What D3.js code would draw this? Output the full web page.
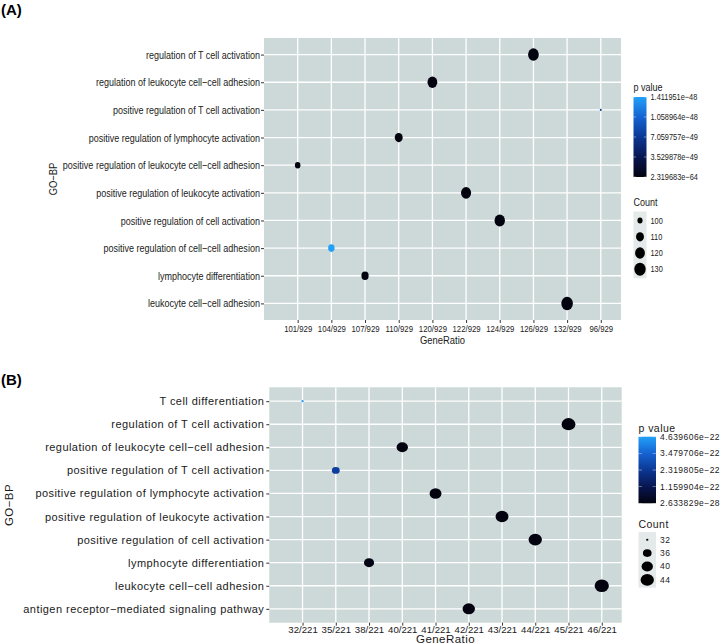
<!DOCTYPE html>
<html>
<head>
<meta charset="utf-8">
<script src="https://cdn.jsdelivr.net/npm/d3@7"></script>
<style>
html,body{margin:0;padding:0;background:#fff;}
svg{display:block;}
</style>
</head>
<body>
<svg id="chart" width="720" height="643"></svg>
<script>
// ---------------- DATA: panel A ----------------
const categoriesA = [
  "regulation of T cell activation",
  "regulation of leukocyte cell\u2212cell adhesion",
  "positive regulation of T cell activation",
  "positive regulation of lymphocyte activation",
  "positive regulation of leukocyte cell\u2212cell adhesion",
  "positive regulation of leukocyte activation",
  "positive regulation of cell activation",
  "positive regulation of cell\u2212cell adhesion",
  "lymphocyte differentiation",
  "leukocyte cell\u2212cell adhesion"
];
const ratioLevelsA = ["101/929","104/929","107/929","110/929","120/929","122/929","124/929","126/929","132/929","96/929"];
const geneRatioA = ["126/929","120/929","96/929","110/929","101/929","122/929","124/929","104/929","107/929","132/929"];
const countA = [126,120,96,110,101,122,124,104,107,132];
const pValueA = [3.1e-62,8.4e-60,7.8e-49,2.6e-57,4.9e-55,1.2e-61,6.3e-63,1.411951e-48,9.7e-56,2.319683e-64];
const colorTicksA = [2.319683e-64,3.529878e-49,7.059757e-49,1.058964e-48,1.411951e-48];
const colorTickLabelsA = ["2.319683e\u221264","3.529878e\u221249","7.059757e\u221249","1.058964e\u221248","1.411951e\u221248"];
const sizeTicksA = [100,110,120,130];

// ---------------- DATA: panel B ----------------
const categoriesB = [
  "T cell differentiation",
  "regulation of T cell activation",
  "regulation of leukocyte cell\u2212cell adhesion",
  "positive regulation of T cell activation",
  "positive regulation of lymphocyte activation",
  "positive regulation of leukocyte activation",
  "positive regulation of cell activation",
  "lymphocyte differentiation",
  "leukocyte cell\u2212cell adhesion",
  "antigen receptor\u2212mediated signaling pathway"
];
const ratioLevelsB = ["32/221","35/221","38/221","40/221","41/221","42/221","43/221","44/221","45/221","46/221"];
const geneRatioB = ["32/221","45/221","40/221","35/221","41/221","43/221","44/221","38/221","46/221","42/221"];
const countB = [32,45,40,35,41,43,44,38,46,42];
const pValueB = [4.639606e-22,3.2e-27,1.5e-25,2.5e-22,4.1e-26,8.8e-27,1.9e-27,6.4e-24,2.633829e-28,7.5e-26];
const colorTicksB = [2.633829e-28,1.159904e-22,2.319805e-22,3.479706e-22,4.639606e-22];
const colorTickLabelsB = ["2.633829e\u221228","1.159904e\u221222","2.319805e\u221222","3.479706e\u221222","4.639606e\u221222"];
const sizeTicksB = [32,36,40,44];

// ---------------- DRAWING ----------------
const svg = d3.select("#chart");
const gradientStops = ["#03030f", "#081650", "#0b3794", "#1563d2", "#22a0f8"];
const panelBg = "#CDD8D8";
const txt = "#1a1a1a";

function drawPanel(cfg) {
  const g = svg.append("g");
  const sx = cfg.sx;
  const T = (sel, size, ls) => sel.attr("fill", txt).style("font-family", cfg.font)
    .style("font-size", size + "px").style("letter-spacing", (ls === undefined ? cfg.ls : ls) + "px");
  const label = (xx, yy, str, size, anchor) => T(g.append("text")
      .attr("transform", `translate(${xx},${yy}) scale(${sx},1)`)
      .attr("text-anchor", anchor || "start"), size).text(str);

  const n = cfg.levels.length;
  const stepX = (cfg.x1 - cfg.x0) / (n - 1 + 1.6);
  const x = d3.scalePoint().domain(cfg.levels).range([cfg.x0 + stepX, cfg.x1 - 0.6 * stepX]);
  const m = cfg.cats.length;
  const stepY = (cfg.y1 - cfg.y0) / (m - 1 + 1.2);
  const y = d3.scalePoint().domain(cfg.cats).range([cfg.y0 + 0.6 * stepY, cfg.y1 - 0.6 * stepY]);

  const pMin = d3.min(cfg.colorTicks), pMax = d3.max(cfg.colorTicks);
  const color = d3.scaleSequential(d3.piecewise(d3.interpolateRgb, gradientStops)).domain([pMin, pMax]);
  const cMin = d3.min(cfg.counts), cMax = d3.max(cfg.counts);
  const norm = d3.scaleLinear().domain([cMin, cMax]).range([0, 1]).clamp(true);
  const sz = d3.scaleSqrt().domain([0, 1]).range([1, 6]);
  const radius = c => sz(norm(c)) * cfg.k;

  g.append("rect").attr("x", cfg.x0).attr("y", cfg.y0)
    .attr("width", cfg.x1 - cfg.x0).attr("height", cfg.y1 - cfg.y0).attr("fill", panelBg);
  g.selectAll("line.gx").data(cfg.levels).join("line")
    .attr("x1", d => x(d)).attr("x2", d => x(d)).attr("y1", cfg.y0).attr("y2", cfg.y1)
    .attr("stroke", "#fff").attr("stroke-width", 1.3);
  g.selectAll("line.gy").data(cfg.cats).join("line")
    .attr("y1", d => y(d)).attr("y2", d => y(d)).attr("x1", cfg.x0).attr("x2", cfg.x1)
    .attr("stroke", "#fff").attr("stroke-width", 1.3);

  const ax = g.append("g").attr("transform", `translate(0,${cfg.y1})`)
    .call(d3.axisBottom(x).tickSize(3).tickPadding(cfg.xPad));
  ax.select(".domain").remove();
  ax.selectAll("line").attr("stroke", "#333");
  T(ax.selectAll("text"), cfg.xTickSize, 0).attr("transform", `scale(${sx},1)`);

  const ay = g.append("g").attr("transform", `translate(${cfg.x0},0)`)
    .call(d3.axisLeft(y).tickSize(3).tickPadding(2));
  ay.select(".domain").remove();
  ay.selectAll("line").attr("stroke", "#333");
  T(ay.selectAll("text"), cfg.yTickSize).attr("transform", `scale(${sx},1)`);

  label((cfg.x0 + cfg.x1) / 2, cfg.xTitleY, "GeneRatio", cfg.titleSize, "middle");
  T(g.append("text").attr("transform", `translate(${cfg.yTitleX},${(cfg.y0 + cfg.y1) / 2}) rotate(-90) scale(${sx},1)`)
    .attr("text-anchor", "middle"), cfg.titleSize).text("GO\u2212BP");

  const data = cfg.cats.map((c, i) => ({cat: c, ratio: cfg.ratios[i], count: cfg.counts[i], p: cfg.pvals[i]}));
  g.selectAll("ellipse.pt").data(data).join("ellipse")
    .attr("cx", d => x(d.ratio)).attr("cy", d => y(d.cat))
    .attr("rx", d => radius(d.count) * cfg.ax).attr("ry", d => radius(d.count) * cfg.ay)
    .attr("fill", d => color(d.p));

  svg.append("text").attr("x", 1).attr("y", cfg.labelY).attr("fill", "#000")
    .style("font-family", "Liberation Sans, Arial, sans-serif").style("font-weight", "bold")
    .style("font-size", "15px").text(cfg.label);

  // colour legend
  const L = cfg.leg;
  label(L.x, L.titleY, "p value", cfg.legTitleSize);
  const gradId = "grad" + cfg.label.replace(/\W/g, "");
  const grad = svg.append("defs").append("linearGradient").attr("id", gradId)
    .attr("x1", 0).attr("x2", 0).attr("y1", 1).attr("y2", 0);
  d3.range(0, 1.0001, 0.05).forEach(t => {
    grad.append("stop").attr("offset", t).attr("stop-color", color(pMin + t * (pMax - pMin)));
  });
  g.append("rect").attr("x", L.x).attr("y", L.barTop).attr("width", L.barW)
    .attr("height", L.barBot - L.barTop).attr("fill", `url(#${gradId})`);
  const cb = d3.scaleLinear().domain([pMin, pMax]).range([L.barBot, L.barTop]);
  cfg.colorTicks.forEach((v, i) => {
    const yy = cb(v);
    g.append("line").attr("x1", L.x).attr("x2", L.x + L.barW / 5).attr("y1", yy).attr("y2", yy)
      .attr("stroke", "#fff").attr("stroke-width", 0.6).attr("opacity", 0.7);
    g.append("line").attr("x1", L.x + L.barW * 4 / 5).attr("x2", L.x + L.barW).attr("y1", yy).attr("y2", yy)
      .attr("stroke", "#fff").attr("stroke-width", 0.6).attr("opacity", 0.7);
    label(L.x + L.barW + L.labGap, yy + cfg.legLabSize * 0.35, cfg.colorTickLabels[i], cfg.legLabSize);
  });

  // size legend
  label(L.x, L.countTitleY, "Count", cfg.legTitleSize);
  g.append("rect").attr("x", L.x).attr("y", L.keyTop).attr("width", L.barW)
    .attr("height", L.keyStep * cfg.sizeTicks.length + 2).attr("fill", "#E4E9E9");
  cfg.sizeTicks.forEach((v, i) => {
    const yy = L.keyTop + 1 + L.keyStep * (i + 0.5);
    g.append("ellipse").attr("cx", L.x + L.barW / 2).attr("cy", yy)
      .attr("rx", radius(v) * cfg.ax).attr("ry", radius(v) * cfg.ay).attr("fill", "#000");
    label(L.x + L.barW + L.labGap, yy + cfg.legLabSize * 0.35, String(v), cfg.legLabSize);
  });
}

drawPanel({
  label: "(A)", labelY: 15,
  cats: categoriesA, levels: ratioLevelsA, ratios: geneRatioA, counts: countA, pvals: pValueA,
  colorTicks: colorTicksA, colorTickLabels: colorTickLabelsA, sizeTicks: sizeTicksA,
  x0: 264, x1: 621, y0: 38, y1: 320,
  font: "'Liberation Sans', Arial, sans-serif", ls: 0, sx: 0.82,
  xTickSize: 9.5, xPad: 2, yTickSize: 11, titleSize: 11.5, legTitleSize: 11, legLabSize: 9,
  xTitleY: 344, yTitleX: 57,
  k: 1.12, ax: 0.86, ay: 1.0,
  leg: {x: 633.5, titleY: 91, barTop: 97, barBot: 177, barW: 13, labGap: 4,
        countTitleY: 206, keyTop: 211.5, keyStep: 16.2}
});

drawPanel({
  label: "(B)", labelY: 385,
  cats: categoriesB, levels: ratioLevelsB, ratios: geneRatioB, counts: countB, pvals: pValueB,
  colorTicks: colorTicksB, colorTickLabels: colorTickLabelsB, sizeTicks: sizeTicksB,
  x0: 269.3, x1: 621.7, y0: 387.3, y1: 622.7,
  font: "'Liberation Sans', Arial, sans-serif", ls: 0.45, sx: 1,
  xTickSize: 9.6, xPad: 0, yTickSize: 11, titleSize: 11.5, legTitleSize: 10.5, legLabSize: 8.5,
  xTitleY: 643, yTitleX: 13,
  k: 1.05, ax: 1.13, ay: 1.0,
  leg: {x: 638.5, titleY: 432, barTop: 436.7, barBot: 503.3, barW: 17.5, labGap: 4,
        countTitleY: 528, keyTop: 532, keyStep: 13.4}
});
</script>
</body>
</html>
